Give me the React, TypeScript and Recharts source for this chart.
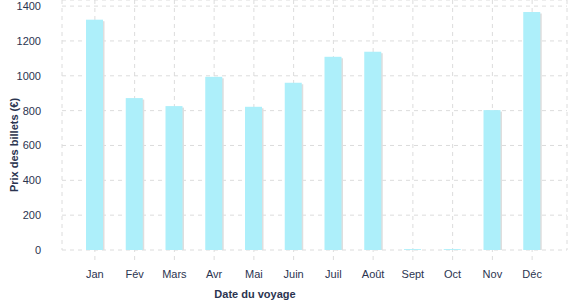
import React from "react"
import { Bar, BarChart, CartesianGrid, XAxis, YAxis } from "recharts"

const months = ["Jan", "Fév", "Mars", "Avr", "Mai", "Juin", "Juil", "Août", "Sept", "Oct", "Nov", "Déc"]
const prices = [1322, 872, 826, 994, 822, 960, 1109, 1138, 5, 5, 803, 1366]
const yTicks = [0, 200, 400, 600, 800, 1000, 1200, 1400]

const data = months.map((month, i) => ({ month, price: prices[i] }))

const textColor = "#2b3450"
const gridColor = "#dcdcdc"
const font = "'Liberation Sans', Arial, sans-serif"

const ShadowBar = (props: any) => {
  const { x, y, width, height } = props
  if (!height || height <= 0) return null
  return (
    <g>
      <rect x={x + 1.5} y={y + 1.5} width={width} height={Math.max(height - 1.5, 0)} fill="#dedede" />
      <rect x={x} y={y} width={width} height={height} fill="#adeffa" />
    </g>
  )
}

export default function App() {
  return (
    <div style={{ position: "absolute", left: 0, top: 0, width: 577, height: 300, background: "#fff" }}>
      <BarChart width={577} height={300} data={data} margin={{ top: 0, right: 10, left: 0, bottom: 20 }}>
        <CartesianGrid stroke={gridColor} strokeDasharray="4 4" />
        <XAxis
          dataKey="month"
          height={30}
          padding={{ left: 13, right: 15 }}
          axisLine={false}
          tickLine={{ stroke: gridColor, strokeDasharray: "4 4" }}
          tickSize={10}
          tickMargin={10}
          interval={0}
          tick={{ fill: textColor, fontSize: 11, fontFamily: font }}
          label={{
            content: () => (
              <text x={255} y={298} textAnchor="middle" fill={textColor} fontSize={11} fontWeight="bold" fontFamily={font}>
                Date du voyage
              </text>
            ),
          }}
        />
        <YAxis
          width={62}
          domain={[0, 1435]}
          ticks={yTicks}
          axisLine={false}
          tickLine={false}
          tickSize={6}
          tickMargin={15}
          tick={{ fill: textColor, fontSize: 11, fontFamily: font }}
          label={{
            content: () => (
              <text
                x={18}
                y={145}
                transform="rotate(-90 18 145)"
                textAnchor="middle"
                fill={textColor}
                fontSize={11}
                fontWeight="bold"
                fontFamily={font}
              >
                Prix des billets (€)
              </text>
            ),
          }}
        />
        <Bar dataKey="price" barSize={17} shape={ShadowBar} isAnimationActive={false} />
      </BarChart>
    </div>
  )
}
